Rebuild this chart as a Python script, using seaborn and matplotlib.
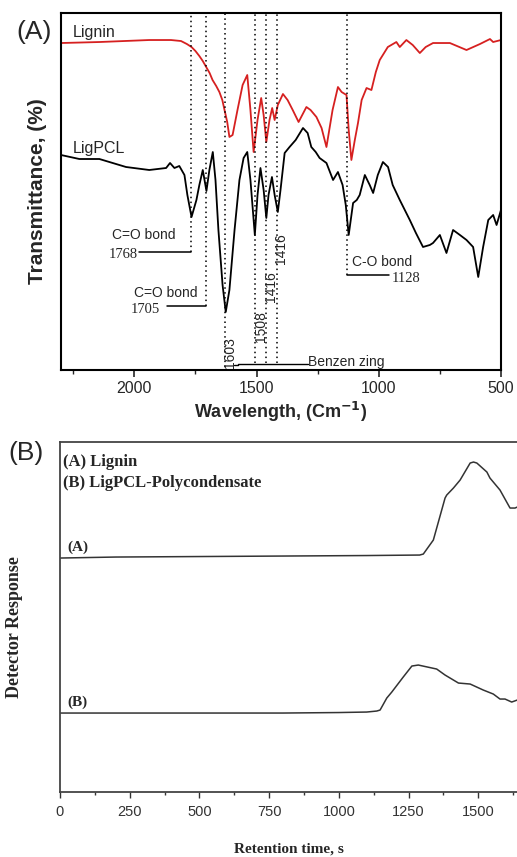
import numpy as np
import pandas as pd
import matplotlib
matplotlib.use("Agg")
import matplotlib.pyplot as plt
import seaborn as sns

# --- FTIR (panel A), wavenumber in cm-1, transmittance in arbitrary units
lig_wn = [2300, 2143, 1939, 1850, 1809, 1785, 1766, 1750, 1734, 1720, 1706, 1692, 1680,
          1665, 1652, 1640, 1631, 1620, 1611, 1598,
          1578, 1557, 1538, 1525, 1512, 1496, 1481, 1471, 1460, 1447, 1436, 1426,
          1413, 1392, 1373, 1352, 1328, 1296, 1279, 1255, 1234, 1214, 1189, 1167,
          1152, 1132, 1123, 1112, 1098, 1085, 1070, 1050, 1030, 1012, 996, 963,
          928, 914, 887, 861, 832, 808, 778, 709, 641, 586, 545, 532, 500]
lig_T = [327, 328, 330, 330, 329, 326, 323, 319, 314, 309, 303, 297, 290,
         284, 278, 270, 260, 248, 233, 235,
         260, 285, 295, 260, 218, 250, 272, 255, 228, 250, 262, 250,
         265, 276, 270, 260, 248, 263, 260, 253, 242, 223, 260, 283,
         278, 275, 240, 210, 230, 247, 270, 282, 280, 298, 310, 323,
         328, 323, 330, 325, 317, 323, 327, 327, 320, 326, 331, 328, 330]

pcl_wn = [2300, 2225, 2143, 2034, 1939, 1870, 1854, 1836, 1816, 1795, 1783, 1766,
          1746, 1734, 1720, 1705, 1693, 1679, 1668, 1656, 1639, 1626, 1611, 1590,
          1570, 1553, 1538, 1525, 1507, 1496, 1484, 1471, 1460, 1451, 1437, 1426,
          1413, 1402, 1385, 1365, 1340, 1310, 1291, 1276, 1258, 1242, 1214, 1187,
          1167, 1148, 1135, 1123, 1105, 1090, 1078, 1057, 1037, 1023, 1004, 983,
          962, 943, 914, 873, 848, 819, 791, 778, 750, 723, 696, 668, 641, 614,
          593, 573, 552, 532, 518, 500]
pcl_T = [215, 211, 211, 203, 200, 202, 207, 202, 204, 195, 175, 153,
         170, 185, 200, 179, 200, 218, 190, 140, 85, 58, 80, 140,
         190, 212, 218, 190, 135, 175, 202, 180, 152, 175, 193, 175,
         158, 180, 217, 223, 230, 242, 237, 223, 218, 212, 207, 190,
         198, 185, 165, 135, 167, 170, 175, 195, 185, 177, 195, 208,
         203, 185, 170, 150, 137, 123, 125, 127, 135, 117, 140, 135, 130, 123,
         93, 123, 150, 155, 145, 160]

peak_pos = [1768, 1705, 1628, 1508, 1462, 1416, 1128]
peak_low = [118, 64, 3, 7, 7, 7, 95]

# --- GPC (panel B), retention time in s, detector response in arbitrary units
gpc_t_a = [0, 200, 500, 800, 1100, 1290, 1303, 1339, 1369, 1381, 1387, 1411, 1435,
           1471, 1483, 1495, 1531, 1542, 1578, 1614, 1632, 1640]
gpc_a = [234, 235, 235.5, 236, 236.5, 237, 238, 252, 282, 294, 297, 304, 312,
         329, 330, 329, 320, 314, 302, 284, 284, 285]
gpc_t_b = [0, 200, 400, 600, 800, 1000, 1100, 1136, 1148, 1172, 1190, 1231, 1262,
           1285, 1351, 1381, 1429, 1471, 1518, 1554, 1578, 1596, 1620, 1640]
gpc_b = [79, 79, 79, 79, 79, 79.5, 80, 81, 82, 94, 100, 115, 126,
         127, 123, 117, 109, 108, 102, 98, 93, 93, 90, 92]

sns.set_theme(style="white")
plt.rcParams["font.family"] = ["Liberation Sans", "DejaVu Sans"]
serif = ["Liberation Serif", "DejaVu Serif"]

fig = plt.figure(figsize=(5.17, 8.57), dpi=100)

# ---------------- panel A
ax = fig.add_axes([0.118, 0.5683, 0.851, 0.4165])
ftir = pd.DataFrame({"wn": lig_wn, "T": lig_T})
ftir2 = pd.DataFrame({"wn": pcl_wn, "T": pcl_T})
sns.lineplot(data=ftir, x="wn", y="T", color="#d62020", lw=1.3, ax=ax, sort=False)
sns.lineplot(data=ftir2, x="wn", y="T", color="black", lw=1.3, ax=ax, sort=False)
ax.set_xlim(2300, 500)
ax.set_ylim(0, 357)
ax.set_xticks([2000, 1500, 1000, 500])
ax.set_xticks([2250, 1750, 1250, 750], minor=True)
ax.set_yticks([])
ax.tick_params(axis="x", which="major", direction="out", length=5, width=1.2,
               labelsize=11.5, bottom=True, pad=3)
ax.tick_params(axis="x", which="minor", direction="out", length=3, width=1.0, bottom=True)
for s in ax.spines.values():
    s.set_color("black")
    s.set_linewidth(1.5)
ax.set_xlabel(r"Wavelength, (Cm$^{\mathbf{-1}}$)", fontsize=13, fontweight="bold", labelpad=3)
ax.set_ylabel("Transmittance, (%)", fontsize=15, fontweight="bold", labelpad=10)

for p, lo in zip(peak_pos, peak_low):
    ax.plot([p, p], [lo, 357], ls=(0, (1, 2.2)), color="black", lw=1.1)

ax.text(2250, 338, "Lignin", fontsize=11.5, va="center", ha="left")
ax.text(2250, 222, "LigPCL", fontsize=11.5, va="center", ha="left")

# C=O 1768
ax.plot([1980, 1768], [118, 118], color="black", lw=1.1)
ax.text(1985, 115, "1768", fontsize=10.5, family=serif, ha="right", va="center")
ax.text(1961, 135, "C=O bond", fontsize=10, ha="center", va="center")
# C=O 1705
ax.plot([1866, 1705], [64, 64], color="black", lw=1.1)
ax.text(1895, 60, "1705", fontsize=10.5, family=serif, ha="right", va="center")
ax.text(1871, 77, "C=O bond", fontsize=10, ha="center", va="center")
# C-O 1128
ax.plot([1128, 959], [95, 95], color="black", lw=1.1)
ax.text(1111, 108, "C-O bond", fontsize=10, ha="left", va="center")
ax.text(947, 91, "1128", fontsize=10.5, family=serif, ha="left", va="center")
# benzene ring
ax.plot([1592, 1575, 1575, 1291], [5, 5, 6, 6], color="black", lw=1.0)
ax.text(1289, 8, "Benzen zing", fontsize=10, ha="left", va="center")
ax.text(1607, 17, "1603", fontsize=10, rotation=90, ha="center", va="center")
ax.text(1481, 43, "1508", fontsize=10, rotation=90, ha="center", va="center")
ax.text(1440, 83, "1416", fontsize=10, rotation=90, ha="center", va="center")
ax.text(1399, 121, "1416", fontsize=10, rotation=90, ha="center", va="center")

fig.text(16 / 517, 1 - 32 / 857, "(A)", fontsize=19, ha="left", va="center")

# ---------------- panel B
bx = fig.add_axes([0.116, 0.0758, 0.884, 0.4084])
gpc = pd.DataFrame({"t": gpc_t_a, "r": gpc_a})
gpc2 = pd.DataFrame({"t": gpc_t_b, "r": gpc_b})
sns.lineplot(data=gpc, x="t", y="r", color="#333333", lw=1.1, ax=bx)
sns.lineplot(data=gpc2, x="t", y="r", color="#333333", lw=1.1, ax=bx)
bx.set_xlim(0, 1639)
bx.set_ylim(0, 350)
bx.set_xticks([0, 250, 500, 750, 1000, 1250, 1500])
bx.set_xticks(np.arange(125, 1640, 250), minor=True)
bx.set_yticks([])
bx.tick_params(axis="x", which="major", direction="out", length=4, width=1.0,
               labelsize=10.5, bottom=True, pad=5, colors="#333333")
bx.tick_params(axis="x", which="minor", direction="out", length=2.5, width=1.0, bottom=True,
               colors="#333333")
for s in bx.spines.values():
    s.set_color("#444444")
    s.set_linewidth(1.3)
bx.spines["right"].set_visible(False)
bx.set_ylabel("")
bx.set_xlabel("Retention time, s", fontsize=11, fontweight="bold", family=serif, labelpad=17)
bx.text(10, 330, "(A) Lignin", fontsize=12, fontweight="bold", family=serif, ha="left", va="center")
bx.text(10, 309, "(B) LigPCL-Polycondensate", fontsize=12, fontweight="bold", family=serif,
        ha="left", va="center")
bx.text(25, 245, "(A)", fontsize=11, fontweight="bold", family=serif, ha="left", va="center")
bx.text(25, 90, "(B)", fontsize=11, fontweight="bold", family=serif, ha="left", va="center")

fig.text(8 / 517, 1 - 453 / 857, "(B)", fontsize=19, ha="left", va="center")
fig.text(15 / 517, 1 - 627 / 857, "Detector Response", fontsize=13, fontweight="bold",
         family=serif, rotation=90, ha="center", va="center")

fig.savefig("out.png", dpi=100)
